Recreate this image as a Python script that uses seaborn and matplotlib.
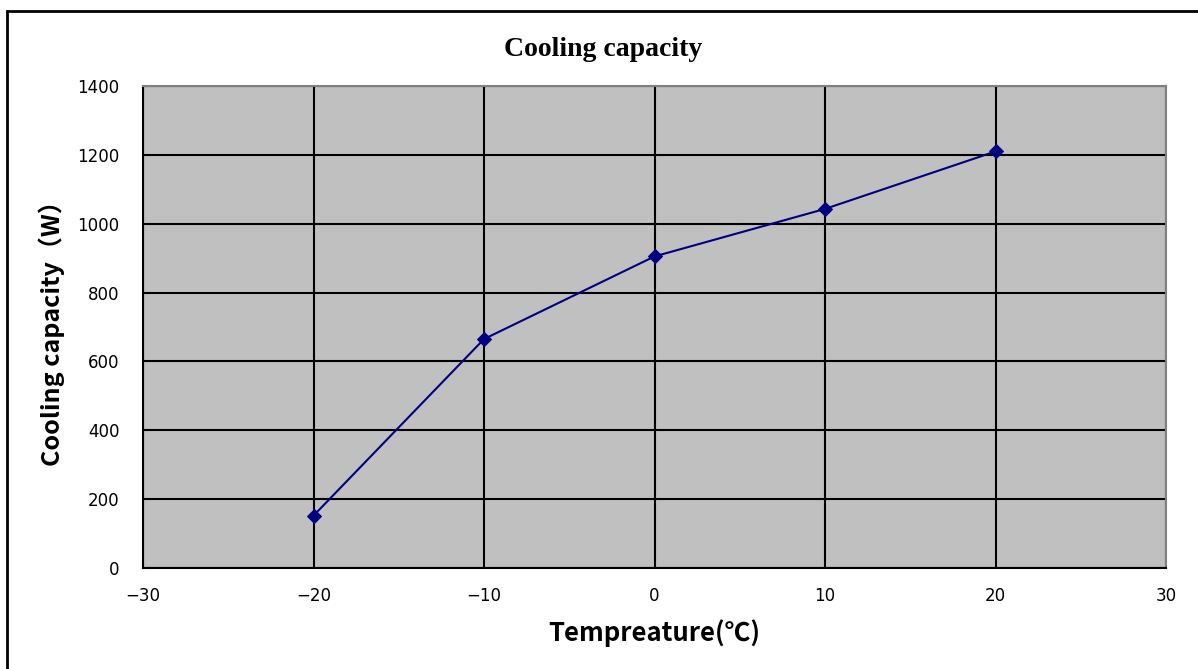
import numpy as np
import pandas as pd
import matplotlib
matplotlib.use("Agg")
import matplotlib.pyplot as plt
import seaborn as sns
from matplotlib.patches import Rectangle

# data
temperature = [-20, -10, 0, 10, 20]
capacity = [152, 665, 905, 1043, 1210]

df = pd.DataFrame({"Temperature": temperature, "Capacity": capacity})

sns.set_style("white")
plt.rcParams['font.family'] = ['Noto Sans CJK JP', 'DejaVu Sans']
plt.rcParams['text.color'] = 'black'
plt.rcParams['axes.labelcolor'] = 'black'

fig = plt.figure(figsize=(11.98, 6.69), dpi=100)
ax = fig.add_axes([143/1198, 1 - 568/669, (1166 - 143)/1198, (568 - 86)/669])
ax.set_facecolor('#c0c0c0')

sns.lineplot(data=df, x="Temperature", y="Capacity", ax=ax, color='#000080',
             linewidth=1.5, marker='D', markersize=7, markeredgecolor='#000080')

ax.set_xlim(-30, 30)
ax.set_ylim(0, 1400)
ax.set_xticks(np.arange(-30, 31, 10))
ax.set_yticks(np.arange(0, 1401, 200))
ax.grid(True, color='black', linewidth=1.5)
ax.set_axisbelow(True)

for side in ['left', 'bottom']:
    ax.spines[side].set_color('black')
    ax.spines[side].set_linewidth(1.5)
for side in ['top', 'right']:
    ax.spines[side].set_color('#808080')
    ax.spines[side].set_linewidth(1.5)

ax.tick_params(axis='both', length=0, labelsize=12, colors='black')
ax.tick_params(axis='y', pad=17)
ax.tick_params(axis='x', pad=14)
for lbl in ax.get_xticklabels() + ax.get_yticklabels():
    lbl.set_family('DejaVu Sans')

ax.set_xlabel('Tempreature(℃)', fontsize=18.5, fontweight='bold', labelpad=10)
ax.set_ylabel('Cooling capacity（W）', fontsize=18, fontweight='bold', labelpad=9)
fig.text(603/1198, 1 - 49/669, 'Cooling capacity', ha='center', va='center',
         fontsize=20, fontweight='bold', family=['Liberation Serif', 'DejaVu Serif'])

# outer chart frame
fig.patches.append(Rectangle((7/1198, -0.05), 1.1, 1 - 11/669 + 0.05,
                             transform=fig.transFigure, fill=False,
                             edgecolor='black', linewidth=2))

fig.savefig("out.png", dpi=100)
